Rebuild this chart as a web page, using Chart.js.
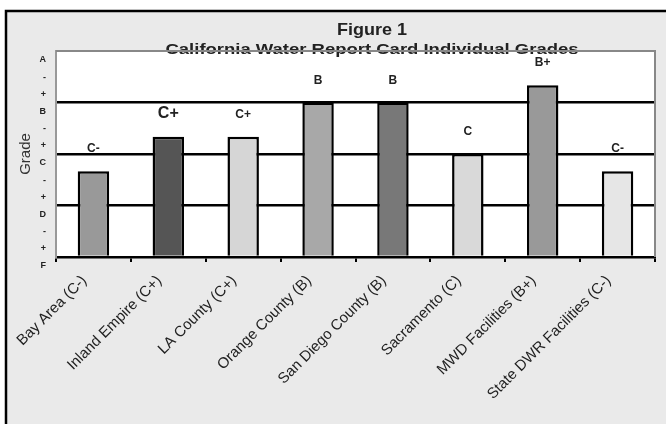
<!DOCTYPE html>
<html>
<head>
<meta charset="utf-8">
<script src="https://cdn.jsdelivr.net/npm/chart.js@4/dist/chart.umd.min.js"></script>
<style>
  body { margin: 0; background: #fff; }
  #wrap { position: relative; width: 666px; height: 424px; }
</style>
</head>
<body>
<div id="wrap"><canvas id="gradeChart" width="666" height="424"></canvas></div>
<script>
// Data (0 = F ... 12 = A)
const categories = ['Bay Area (C-)', 'Inland Empire (C+)', 'LA County (C+)', 'Orange County (B)',
                    'San Diego County (B)', 'Sacramento (C)', 'MWD Facilities (B+)', 'State DWR Facilities (C-)'];
const grades = [5, 7, 7, 9, 9, 6, 10, 5];
const gradeLabels = ['C-', 'C+', 'C+', 'B', 'B', 'C', 'B+', 'C-'];
const yTickLabels = ['F', '+', '-', 'D', '+', '-', 'C', '+', '-', 'B', '+', '-', 'A'];
const titleLines = ['Figure 1', 'California Water Report Card Individual Grades'];

// bar fills, one per category
const barColors = ['#999999', '#555555', '#d6d6d6', '#a8a8a8', '#787878', '#d9d9d9', '#999999', '#e6e6e6'];

const FONT = '"Liberation Sans", Arial, sans-serif';

// draws text stretched to a given width, centred on x
function stretchText(ctx, text, x, y, width) {
    const w = ctx.measureText(text).width;
    ctx.save();
    ctx.translate(x, y);
    ctx.scale(width / w, 1);
    ctx.textAlign = 'center';
    ctx.fillText(text, 0, 0);
    ctx.restore();
}

// Frame, white plot area, borders, labels and the two title lines
const decorPlugin = {
    id: 'decor',
    beforeDraw(chart) {
        const ctx = chart.ctx;
        const a = chart.chartArea;
        ctx.save();
        ctx.fillStyle = '#ffffff';
        ctx.fillRect(0, 0, chart.width, chart.height);
        ctx.fillStyle = '#eaeaea';
        ctx.fillRect(6, 11, chart.width, chart.height);
        ctx.strokeStyle = '#000';
        ctx.lineWidth = 2.5;
        ctx.beginPath();
        ctx.moveTo(6, chart.height + 5);
        ctx.lineTo(6, 11);
        ctx.lineTo(chart.width + 5, 11);
        ctx.stroke();
        ctx.fillStyle = '#ffffff';
        ctx.fillRect(a.left, a.top, a.right - a.left, a.bottom - a.top);
        ctx.restore();
    },
    afterDatasetsDraw(chart) {
        const ctx = chart.ctx;
        const a = chart.chartArea;
        ctx.save();
        // grade letters above bars
        const meta = chart.getDatasetMeta(0);
        ctx.fillStyle = '#222';
        ctx.textAlign = 'center';
        ctx.textBaseline = 'alphabetic';
        meta.data.forEach((bar, i) => {
            const size = i === 1 ? 16 : 12;
            ctx.font = 'bold ' + size + 'px ' + FONT;
            ctx.fillText(gradeLabels[i], bar.x, bar.y - 19);
        });

        // titles
        ctx.fillStyle = '#222';
        ctx.font = 'bold 17px ' + FONT;
        stretchText(ctx, titleLines[0], 372, 35, 70);
        ctx.font = 'bold 15px ' + FONT;
        stretchText(ctx, titleLines[1], 372, 54, 413);

        // top and right border of plot, crossing the title
        ctx.strokeStyle = '#888';
        ctx.lineWidth = 2;
        ctx.beginPath();
        ctx.moveTo(a.left, a.top);
        ctx.lineTo(a.right, a.top);
        ctx.lineTo(a.right, a.bottom);
        ctx.stroke();
        ctx.restore();
    }
};

const ctx = document.getElementById('gradeChart').getContext('2d');
new Chart(ctx, {
    type: 'bar',
    data: {
        labels: categories,
        datasets: [{
            data: grades,
            backgroundColor: barColors,
            borderColor: '#000',
            borderWidth: 2.5,
            barPercentage: 0.42,
            categoryPercentage: 1.0
        }]
    },
    options: {
        responsive: false,
        animation: false,
        layout: { padding: { left: 12, top: 51, right: 11, bottom: 0 } },
        plugins: {
            legend: { display: false },
            tooltip: { enabled: false }
        },
        scales: {
            x: {
                afterFit(scale) { scale.height = 167; },
                grid: {
                    offset: true,
                    drawOnChartArea: false,
                    drawTicks: true,
                    tickLength: 5,
                    color: '#000',
                    lineWidth: 2
                },
                border: { color: '#000', width: 2.5 },
                ticks: {
                    minRotation: 45,
                    maxRotation: 45,
                    autoSkip: false,
                    padding: 10,
                    labelOffset: -9,
                    color: '#222',
                    font: { family: FONT, size: 15 }
                }
            },
            y: {
                min: 0,
                max: 12,
                afterFit(scale) { scale.width = 44; },
                grid: {
                    drawTicks: false,
                    lineWidth: 2.5,
                    color: c => (c.tick && [3, 6, 9].includes(c.tick.value)) ? '#000' : 'rgba(0,0,0,0)'
                },
                border: { color: '#999', width: 2 },
                ticks: {
                    stepSize: 1,
                    autoSkip: false,
                    padding: 10,
                    labelOffset: 9,
                    color: '#222',
                    font: { family: FONT, size: 9, weight: 'bold' },
                    callback: v => yTickLabels[v]
                },
                title: {
                    display: true,
                    text: 'Grade',
                    color: '#333',
                    padding: { top: 5, bottom: 0 },
                    font: { family: FONT, size: 15 }
                }
            }
        }
    },
    plugins: [decorPlugin]
});
</script>
</body>
</html>
